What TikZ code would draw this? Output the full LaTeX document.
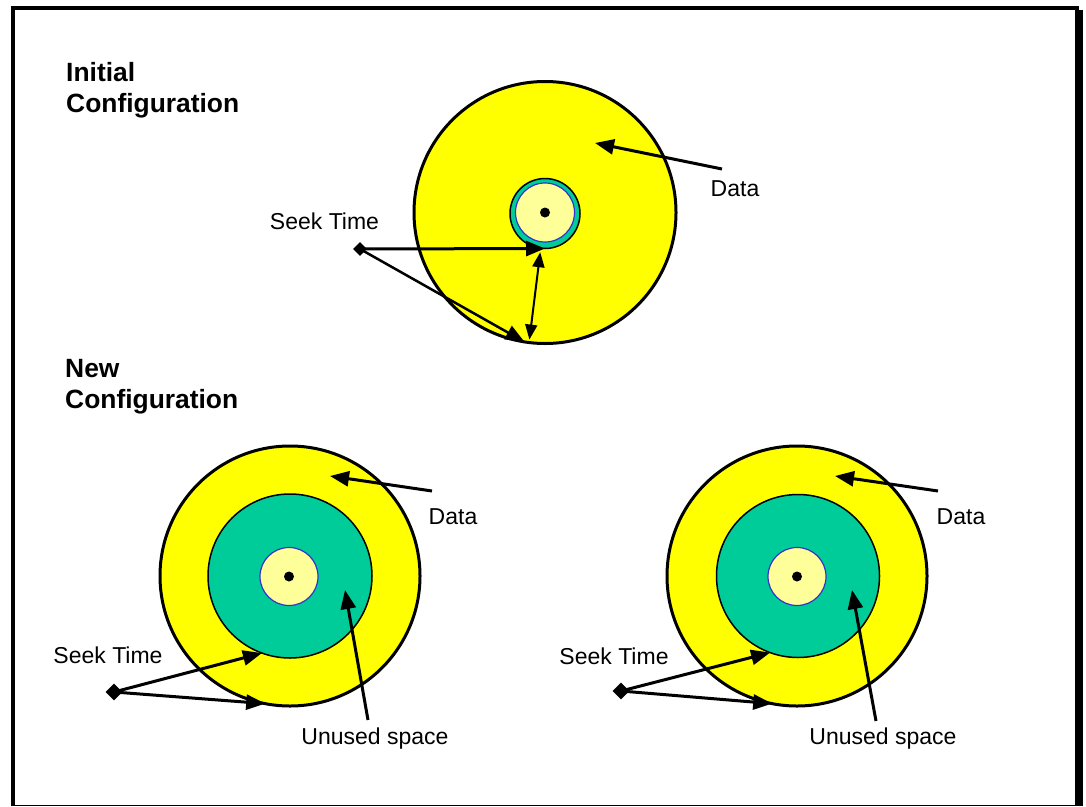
\documentclass[tikz,border=0pt]{standalone}
\usepackage{fontspec}
\setmainfont{Liberation Sans}
\usetikzlibrary{arrows.meta,shapes.geometric}
\definecolor{diskyellow}{RGB}{255,255,0}
\definecolor{diskteal}{RGB}{0,204,153}
\definecolor{hubyellow}{RGB}{255,255,153}
\definecolor{hubblue}{RGB}{51,51,204}
\begin{document}
\begin{tikzpicture}[x=1pt,y=-1pt,
  disk/.style={circle,draw=black,line width=3pt,fill=diskyellow,inner sep=0pt,outer sep=0pt},
  band/.style={circle,draw=black,line width=1.5pt,fill=diskteal,inner sep=0pt,outer sep=0pt},
  hub/.style={circle,draw=hubblue,line width=1.2pt,fill=hubyellow,inner sep=0pt,outer sep=0pt},
  spindle/.style={circle,fill=black,minimum size=10pt,inner sep=0pt},
  origin/.style={diamond,fill=black,minimum width=#1,minimum height=#1,inner sep=0pt},
  lbl/.style={font=\fontsize{23}{27}\selectfont,inner sep=0pt,anchor=base},
  ttl/.style={font=\bfseries\fontsize{26.4}{31}\selectfont,inner sep=0pt,anchor=base west},
  arr/.style={line width=3pt,-{Triangle[length=19pt,width=15pt]}},
  darr/.style={line width=2pt,{Triangle[length=15pt,width=12pt]}-{Triangle[length=15pt,width=12pt]}},
]
\useasboundingbox (0,0) rectangle (1086,806);
% frame
\draw[line width=4pt] (13,806) -- (13,8) -- (1079,8);
\fill (1075,10) rectangle (1083,806);
\draw[line width=1.2pt] (13,805.2) -- (1079,805.2);

% titles
\node[ttl] (t1) at (66,81) {Initial};
\node[ttl] (t2) at (66,112) {Configuration};
\node[ttl] (t3) at (65,377) {New};
\node[ttl] (t4) at (65,408) {Configuration};

% ---------- initial configuration ----------
\node[disk,minimum size=262pt] (disk1) at (545,212.5) {};
\node[band,minimum size=70pt] (band1) at (545,213.5) {};
\node[hub,minimum size=59pt] (hub1) at (545,212.5) {};
\node[spindle] (sp1) at (545,212.5) {};
\node[lbl] (seek1) at (324.5,229) {Seek Time};
\node[lbl] (data1) at (735,196) {Data};
\node[origin=14pt] (o1) at (360,249) {};
\coordinate (ds1) at (722,169);
\coordinate (dt1) at (595,143);
\draw[arr] (o1.center) -- (band1.south);
\draw[arr,line width=2.5pt] (o1.center) -- (disk1.-99.5);
\draw[darr,shorten <=4pt,shorten >=3pt] (band1.-97) -- (disk1.-97);
\draw[arr] (ds1) -- (dt1);

% ---------- new configuration, left ----------
\node[disk,minimum size=260pt] (disk2) at (290,576) {};
\node[band,minimum size=164pt] (band2) at (290,576) {};
\node[hub,minimum size=58pt] (hub2) at (289,576.5) {};
\node[spindle] (sp2) at (289,576.5) {};
\node[lbl] (seek2) at (108,663) {Seek Time};
\node[lbl] (data2) at (453,524) {Data};
\node[lbl] (unused2) at (375,744) {Unused space};
\node[origin=17pt] (o2) at (114,692) {};
\coordinate (ds2) at (432,491);
\coordinate (dt2) at (330,476);
\coordinate (us2) at (368,720);
\coordinate (ut2) at (345,590);
\draw[arr] (o2.center) -- (band2.-110);
\draw[arr] (o2.center) -- (disk2.-101);
\draw[arr] (ds2) -- (dt2);
\draw[arr] (us2) -- (ut2);

% ---------- new configuration, right ----------
\node[disk,minimum size=260pt] (disk3) at (797,576) {};
\node[band,minimum size=163pt] (band3) at (798,576) {};
\node[hub,minimum size=58pt] (hub3) at (797,576.5) {};
\node[spindle] (sp3) at (797,576.5) {};
\node[lbl] (seek3) at (614,664) {Seek Time};
\node[lbl] (data3) at (961,524) {Data};
\node[lbl] (unused3) at (883,744) {Unused space};
\node[origin=17pt] (o3) at (621,691) {};
\coordinate (ds3) at (938,491);
\coordinate (dt3) at (835,476);
\coordinate (us3) at (876,721);
\coordinate (ut3) at (852,590);
\draw[arr] (o3.center) -- (band3.-110);
\draw[arr] (o3.center) -- (disk3.-101);
\draw[arr] (ds3) -- (dt3);
\draw[arr] (us3) -- (ut3);
\end{tikzpicture}
\end{document}
